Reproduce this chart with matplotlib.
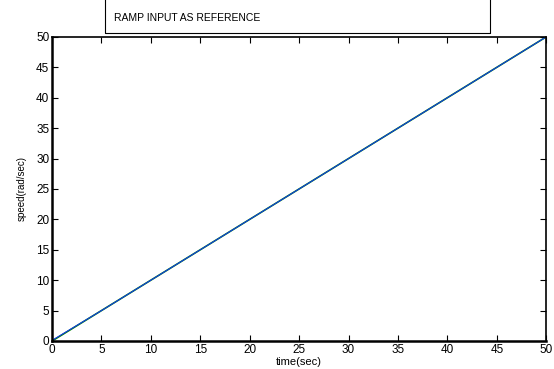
import matplotlib
matplotlib.use("Agg")
import matplotlib.pyplot as plt
from matplotlib.lines import Line2D

plt.rcParams['font.family'] = ['Liberation Sans', 'DejaVu Sans']

time = [0, 5, 10, 15, 20, 25, 30, 35, 40, 45, 50]
reference = [0, 5, 10, 15, 20, 25, 30, 35, 40, 45, 50]
actual = [0.1, 5.0, 10.0, 15.0, 20.0, 25.0, 30.0, 35.0, 40.0, 45.0, 50.0]
xticks = [0, 5, 10, 15, 20, 25, 30, 35, 40, 45, 50]
yticks = [0, 5, 10, 15, 20, 25, 30, 35, 40, 45, 50]

fig = plt.figure(figsize=(5.54, 3.69), dpi=100)
ax = fig.add_axes([0.094, 0.076, 0.892, 0.824])
ax.plot(time, reference, color='#008000', lw=1.2)
ax.plot(time, actual, color='#1030ff', lw=0.7)
ax.set_xlim(0, 50)
ax.set_ylim(0, 50)
ax.set_xticks(xticks)
ax.set_yticks(yticks)
ax.tick_params(direction='in', top=True, right=True, labelsize=8.5, length=4, pad=2)
ax.spines['left'].set_linewidth(1.8)
ax.spines['bottom'].set_linewidth(1.8)
ax.spines['top'].set_linewidth(1.2)
ax.spines['right'].set_linewidth(1.2)
ax.set_xlabel('time(sec)', fontsize=8, labelpad=1)
ax.set_ylabel('speed(rad/sec)', fontsize=7, labelpad=7)

# title box (top edge cut off)
x0, x1 = 105 / 554, 490 / 554
yb, yt = 1 - 33 / 369, 1.0
fig.add_artist(Line2D([x0, x0, x1, x1], [yt, yb, yb, yt], transform=fig.transFigure,
                      color='black', lw=0.8))
fig.text(114 / 554, 1 - 18 / 369, 'RAMP INPUT AS REFERENCE', fontsize=7.5,
         va='center', ha='left')

fig.savefig('out.png', dpi=100)
